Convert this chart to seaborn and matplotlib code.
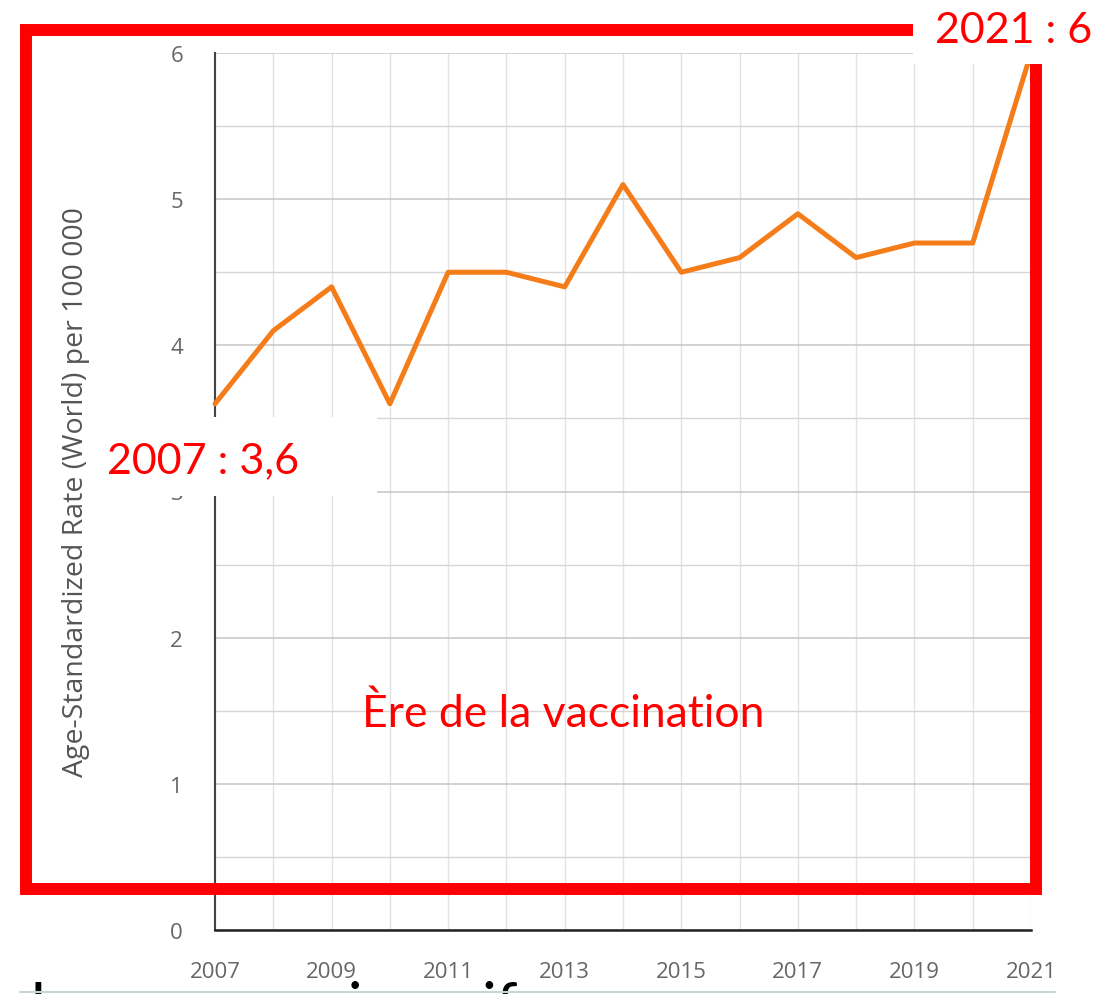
import pandas as pd
import seaborn as sns
import matplotlib.pyplot as plt
from matplotlib.patches import Rectangle
from matplotlib.lines import Line2D
from matplotlib.ticker import MultipleLocator, FixedLocator

years = list(range(2007, 2022))
rates = [3.6, 4.1, 4.4, 3.6, 4.5, 4.5, 4.4, 5.1, 4.5, 4.6, 4.9, 4.6, 4.7, 4.7, 6.0]
label_years = years[::2]
ylabel = 'Age-Standardized Rate (World) per 100 000'
label_end = '2021 : 6'
label_start = '2007 : 3,6'
label_era = 'Ère de la vaccination'
bottom_text = 'Les cancers invasifs'

df = pd.DataFrame({'year': years, 'rate': rates})

sns.set_style('white')
plt.rcParams['font.family'] = ['Open Sans', 'DejaVu Sans']

W, H = 1102, 995
fig = plt.figure(figsize=(W / 100, H / 100), dpi=100)
ax = fig.add_axes([215 / W, 1 - 931 / H, (1031 - 215) / W, (931 - 54) / H])

sns.lineplot(data=df, x='year', y='rate', ax=ax, color='#f57d19', lw=3.6,
             zorder=3, clip_on=False)

ax.set_xlim(2007, 2021)
ax.set_ylim(0, 6)
ax.xaxis.set_major_locator(FixedLocator(label_years))
ax.xaxis.set_minor_locator(FixedLocator(years[1::2]))
ax.yaxis.set_major_locator(MultipleLocator(1))
ax.yaxis.set_minor_locator(MultipleLocator(0.5))

ax.grid(True, axis='y', which='major', color='#c6c6c6', lw=1.1)
ax.grid(True, axis='y', which='minor', color='#d6d6d6', lw=1.0)
ax.grid(True, axis='x', which='both', color='#e2e2e2', lw=1.0)

for s in ['top', 'right']:
    ax.spines[s].set_visible(False)
ax.spines['left'].set_color('#444444')
ax.spines['bottom'].set_color('#222222')
ax.spines['left'].set_linewidth(1.5)
ax.spines['bottom'].set_linewidth(1.8)

ax.tick_params(axis='x', which='major', length=4, width=1.3, color='#333333',
               pad=18, labelsize=16, labelcolor='#666666')
ax.tick_params(axis='x', which='minor', length=11, width=1.3, color='#333333')
ax.tick_params(axis='y', which='major', length=12, width=1.8, color='#222222',
               pad=11, labelsize=16, labelcolor='#666666')
ax.tick_params(axis='y', which='minor', length=6, width=1.3, color='#222222')

ax.set_xlabel('')
ax.set_ylabel(ylabel, fontsize=20.5, color='#555555')
ax.yaxis.set_label_coords(-0.153, 0.5)

# red frame over the chart
fig.add_artist(Rectangle((26 / W, 1 - 890 / H), (1036 - 26) / W, (890 - 31) / H,
                         transform=fig.transFigure, fill=False, ec='#ff0000',
                         lw=8.6, joinstyle='miter', zorder=10))

# white label boxes
fig.add_artist(Rectangle((913 / W, 1 - 65 / H), (W - 913) / W, 65 / H,
                         transform=fig.transFigure, fc='white', ec='none', zorder=11))
fig.add_artist(Rectangle((100 / W, 1 - 497 / H), (377 - 100) / W, (497 - 418) / H,
                         transform=fig.transFigure, fc='white', ec='none', zorder=11))

red_font = ['Lato', 'DejaVu Sans']
fig.text(935 / W, 1 - 43 / H, label_end, color='#ff0000', fontsize=31,
         family=red_font, va='baseline', ha='left', zorder=12)
fig.text(107 / W, 1 - 473 / H, label_start, color='#ff0000', fontsize=31,
         family=red_font, va='baseline', ha='left', zorder=12)
fig.text(362 / W, 1 - 727 / H, label_era, color='#ff0000', fontsize=32,
         family=red_font, va='baseline', ha='left', zorder=12)

# slide text cut off at the bottom, as in the source slide
fig.add_artist(Line2D([20 / W, 1055 / W], [1 - 993 / H, 1 - 993 / H],
                      transform=fig.transFigure, color='#c9d3da', lw=1.5, zorder=9))
fig.text(30 / W, 1 - 1025 / H, bottom_text, color='black', fontsize=43,
         family=red_font, va='baseline', ha='left', zorder=8)

plt.savefig('out.png', dpi=100)
